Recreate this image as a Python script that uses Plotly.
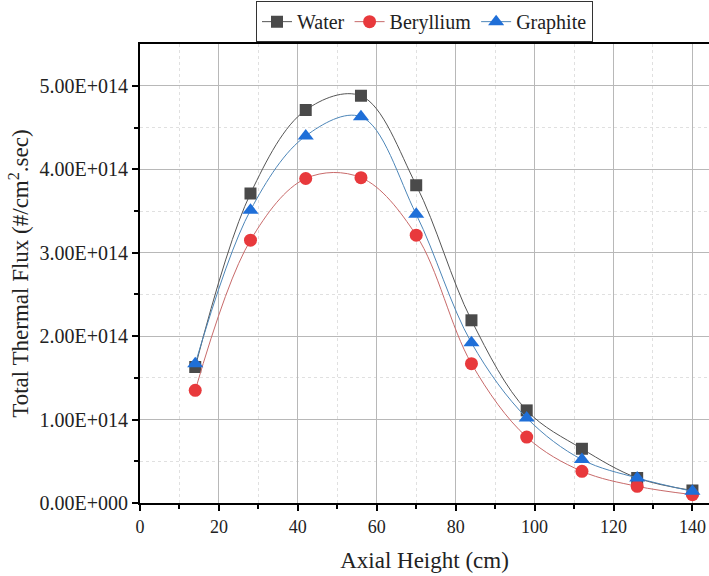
import plotly.graph_objects as go

heights = [14, 28, 42, 56, 70, 84, 98, 112, 126, 140]
water = [1.63e14, 3.71e14, 4.71e14, 4.88e14, 3.81e14, 2.19e14, 1.11e14, 0.65e14, 0.30e14, 0.15e14]
beryllium = [1.35e14, 3.15e14, 3.89e14, 3.90e14, 3.21e14, 1.67e14, 0.79e14, 0.38e14, 0.20e14, 0.10e14]
graphite = [1.67e14, 3.51e14, 4.40e14, 4.63e14, 3.46e14, 1.92e14, 1.02e14, 0.52e14, 0.30e14, 0.14e14]

y_tick_vals = [0, 1e14, 2e14, 3e14, 4e14, 5e14]
y_tick_text = ["0.00E+000", "1.00E+014", "2.00E+014", "3.00E+014", "4.00E+014", "5.00E+014"]
x_tick_vals = [0, 20, 40, 60, 80, 100, 120, 140]

series = [
    ("Water", water, "#4a4a4a", "#555555", "square", 12),
    ("Beryllium", beryllium, "#e8393c", "#c86a6a", "circle", 13),
    ("Graphite", graphite, "#1f6fd8", "#4d86b8", "triangle-up", 14),
]

FONT = "'Liberation Serif', 'Times New Roman', serif"
fig = go.Figure()
for name, vals, mcol, lcol, sym, sz in series:
    fig.add_trace(go.Scatter(
        x=heights, y=vals, name=name, mode="lines+markers",
        line=dict(color=lcol, width=1, shape="spline", smoothing=1.0),
        marker=dict(color=mcol, symbol=sym, size=sz, line=dict(width=0)),
    ))

fig.update_layout(
    width=709, height=576,
    margin=dict(l=140, r=0, t=41, b=73),
    paper_bgcolor="white", plot_bgcolor="white",
    font=dict(family=FONT, size=16, color="#222222"),
    showlegend=True,
    legend=dict(orientation="h", x=0.5, xanchor="center", y=0.998, yanchor="top",
                yref="container", bordercolor="#333333", borderwidth=1,
                font=dict(family=FONT, size=20, color="#222222"),
                tracegroupgap=0, bgcolor="white"),
    xaxis=dict(
        range=[0, 144.2], tickvals=x_tick_vals, ticks="outside", ticklen=6, tickwidth=2,
        tickcolor="black", showline=True, linecolor="black", linewidth=2, mirror=True,
        showgrid=True, gridcolor="#b8b8b8", gridwidth=1, zeroline=False,
        minor=dict(dtick=10, tick0=0, ticks="outside", ticklen=4, tickwidth=2, tickcolor="black",
                   showgrid=True, gridcolor="#e0e0e0", griddash="dot"),
        title=dict(text="Axial Height (cm)", font=dict(family=FONT, size=23), standoff=16),
        tickfont=dict(family=FONT, size=18),
    ),
    yaxis=dict(
        range=[0, 5.5e14], tickvals=y_tick_vals, ticktext=y_tick_text, ticks="outside",
        ticklen=6, tickwidth=2, tickcolor="black", showline=True, linecolor="black", linewidth=2,
        showgrid=True, gridcolor="#b8b8b8", gridwidth=1, zeroline=False,
        minor=dict(tickvals=[0.5e14, 1.5e14, 2.5e14, 3.5e14, 4.5e14], ticks="outside", ticklen=4,
                   tickwidth=2, tickcolor="black", showgrid=True, gridcolor="#e0e0e0", griddash="dot"),
        title=dict(text="Total Thermal Flux (#/cm<sup>2</sup>.sec)", font=dict(family=FONT, size=23), standoff=4),
        tickfont=dict(family=FONT, size=20),
    ),
)
fig.write_html("out.html")
